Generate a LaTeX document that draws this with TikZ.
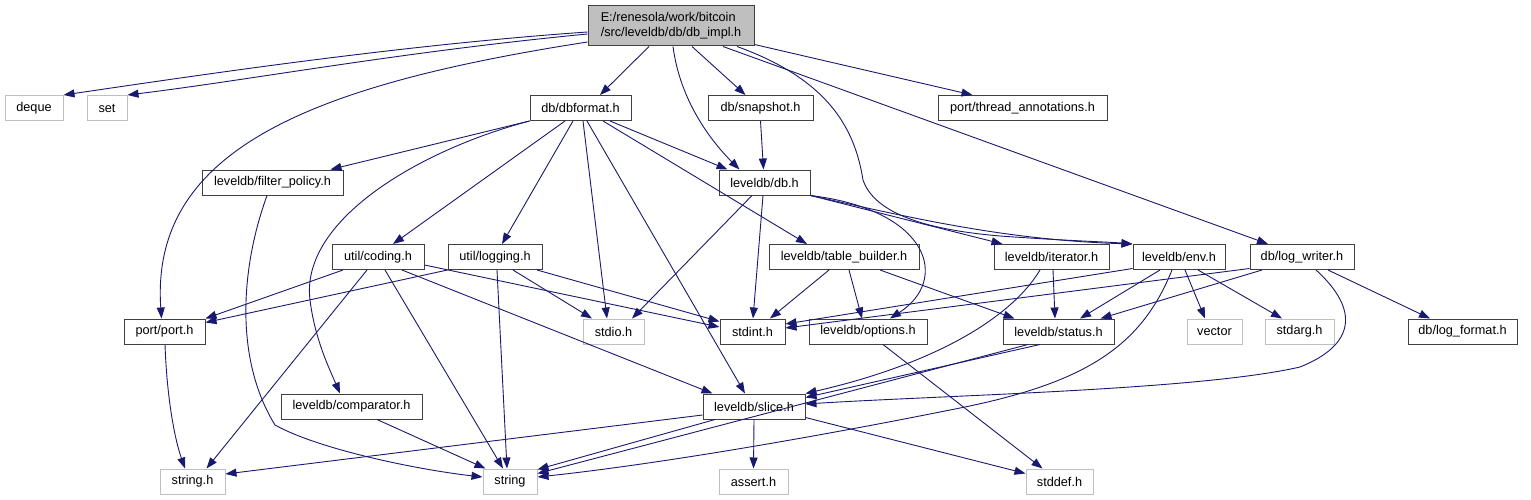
\documentclass[tikz,border=0pt]{standalone}
\usepackage{fontspec}
\setmainfont{Liberation Sans}
\usetikzlibrary{arrows.meta,calc}
\definecolor{edgec}{HTML}{191970}
\definecolor{boxline}{HTML}{404040}
\definecolor{extline}{HTML}{BFBFBF}
\definecolor{rootfill}{HTML}{BFBFBF}
\begin{document}
\begin{tikzpicture}[x=1pt,y=-1pt,
  box/.style={draw=boxline,fill=white,line width=1pt,inner sep=0pt,minimum height=25pt,
    font=\fontsize{12.7}{15}\selectfont,text=black},
  ext/.style={box,draw=extline},
  e/.style={draw=edgec,line width=0.9pt,-{Triangle[length=11pt,width=8pt]}}]
\useasboundingbox[fill=white] (0,0) rectangle (1531,500);
% nodes
\node[box,fill=rootfill,minimum width=166pt,minimum height=40pt,align=left] (root) at (671,26) {E:/renesola/work/bitcoin\\/src/leveldb/db/db\_impl.h};
\node[ext,minimum width=58pt] (deque) at (34,108) {deque};
\node[ext,minimum width=40pt] (set) at (107,108) {set};
\node[box,minimum width=101pt] (dbformat) at (580.5,108) {db/dbformat.h};
\node[box,minimum width=105pt] (snapshot) at (760.5,108) {db/snapshot.h};
\node[box,minimum width=169pt] (thread) at (1022.5,108) {port/thread\_annotations.h};
\node[box,minimum width=141pt] (filter) at (272.5,182.5) {leveldb/filter\_policy.h};
\node[box,minimum width=91pt] (db) at (764.5,182.5) {leveldb/db.h};
\node[box,minimum width=92pt] (coding) at (378,257) {util/coding.h};
\node[box,minimum width=94pt] (logging) at (495,257) {util/logging.h};
\node[box,minimum width=150pt] (tbuilder) at (844,257) {leveldb/table\_builder.h};
\node[box,minimum width=115pt] (iterator) at (1051.5,257) {leveldb/iterator.h};
\node[box,minimum width=92pt] (env) at (1179,257) {leveldb/env.h};
\node[box,minimum width=104pt] (logw) at (1302,257) {db/log\_writer.h};
\node[box,minimum width=81pt] (port) at (164.5,331.5) {port/port.h};
\node[ext,minimum width=61pt] (stdio) at (613.5,331.5) {stdio.h};
\node[box,minimum width=65pt] (stdint) at (752.5,331.5) {stdint.h};
\node[box,minimum width=118pt] (options) at (868,331.5) {leveldb/options.h};
\node[box,minimum width=111pt] (status) at (1058.5,331.5) {leveldb/status.h};
\node[ext,minimum width=55pt] (vector) at (1214.5,331.5) {vector};
\node[ext,minimum width=69pt] (stdarg) at (1299.5,331.5) {stdarg.h};
\node[box,minimum width=109pt] (logfmt) at (1462.5,331.5) {db/log\_format.h};
\node[box,minimum width=141pt] (comparator) at (351.5,406.5) {leveldb/comparator.h};
\node[box,minimum width=102pt] (slice) at (754,406.5) {leveldb/slice.h};
\node[ext,minimum width=65pt] (stringh) at (192.5,481.5) {string.h};
\node[ext,minimum width=54pt] (string) at (510,481.5) {string};
\node[ext,minimum width=69pt] (assert) at (753.5,481.5) {assert.h};
\node[ext,minimum width=67pt] (stddef) at (1059.5,481.5) {stddef.h};
% root edges
\draw[e] ($(root.west)+(0,6)$) .. controls (400,45) and (200,75) .. (deque.north east);
\draw[e] ($(root.west)+(0,8)$) .. controls (400,52) and (250,80) .. (set.north east);
\draw[e] ($(root.west)+(0,16)$) .. controls (310,85) and (150,150) .. ($(port.north)+(-3,0)$);
\draw[e] ($(root.south)+(-22,0)$) -- ($(dbformat.north)+(19.5,0)$);
\draw[e] ($(root.south)+(2,0)$) .. controls (680,100) and (710,140) .. ($(db.north)+(-25,0)$);
\draw[e] ($(root.south)+(21,0)$) -- ($(snapshot.north)+(-15,0)$);
\draw[e] ($(root.south)+(52,0)$) -- ($(logw.north)+(-34,0)$);
\draw[e] ($(root.south)+(66,0)$) .. controls (830,80) and (855,130) .. (863,180) .. controls (875,215) and (930,230) .. (1000,236) .. controls (1070,241) and (1110,242) .. (env.north west);
\draw[e] ($(root.south east)+(0,-2)$) -- ($(thread.north)+(-50,0)$);
% dbformat edges
\draw[e] (dbformat.south west) -- ($(filter.north east)+(-13,0)$);
\draw[e] (dbformat.south west) .. controls (420,150) and (300,220) .. (310,300) .. controls (315,340) and (330,370) .. ($(comparator.north)+(-11.5,0)$);
\draw[e] ($(dbformat.south)+(-15.5,0)$) -- ($(coding.north)+(15,0)$);
\draw[e] ($(dbformat.south)+(-7.5,0)$) -- ($(logging.north)+(7,0)$);
\draw[e] ($(dbformat.south)+(2.5,0)$) -- ($(stdio.north)+(-6.5,0)$);
\draw[e] ($(dbformat.south)+(6.5,0)$) -- ($(slice.north)+(-9,0)$);
\draw[e] ($(dbformat.south)+(22.5,0)$) -- ($(tbuilder.north)+(-37,0)$);
\draw[e] ($(dbformat.south)+(29.5,0)$) -- ($(db.north)+(-37,0)$);
% snapshot
\draw[e] (snapshot.south) -- ($(db.north)+(-1,0)$);
% db edges
\draw[e] ($(db.south)+(-12.5,0)$) -- ($(stdio.north)+(18.5,0)$);
\draw[e] ($(db.south)+(-1.5,0)$) -- ($(stdint.north)+(0.5,0)$);
\draw[e] (db.south east) .. controls (930,210) and (950,280) .. ($(options.north)+(22,0)$);
\draw[e] (db.south east) -- ($(iterator.north west)+(9,0)$);
\draw[e] (db.south east) .. controls (900,215) and (1000,240) .. (env.north west);
% filter, comparator
\draw[e] ($(filter.south)+(-5.5,0)$) .. controls (240,270) and (235,360) .. (275,425) .. controls (320,450) and (420,470) .. ($(string.west)+(0,-4.5)$);
\draw[e] ($(comparator.south)+(25.5,0)$) -- ($(string.north west)+(3,0)$);
% coding
\draw[e] ($(coding.south)+(-35,0)$) -- (port.north east);
\draw[e] ($(coding.south)+(-11,0)$) -- ($(stringh.north east)+(-19,0)$);
\draw[e] ($(coding.south)+(7,0)$) -- ($(string.north)+(-7,0)$);
\draw[e] ($(coding.south)+(24,0)$) -- ($(slice.north west)+(10,0)$);
\draw[e] ($(coding.east)+(0,8)$) -- ($(stdint.west)+(0,-4.5)$);
% logging
\draw[e] (logging.south west) -- ($(port.east)+(0,-9)$);
\draw[e] ($(logging.south)+(2,0)$) -- ($(string.north)+(-3,0)$);
\draw[e] ($(logging.south)+(18,0)$) -- ($(stdio.north)+(-21.5,0)$);
\draw[e] ($(logging.south)+(42,0)$) -- ($(stdint.west)+(0,-10)$);
% table builder
\draw[e] ($(tbuilder.south)+(-15,0)$) -- ($(stdint.north)+(17.5,0)$);
\draw[e] ($(tbuilder.south)+(5,0)$) -- ($(options.north)+(-6,0)$);
\draw[e] ($(tbuilder.south)+(36,0)$) -- ($(status.north west)+(12,0)$);
% iterator
\draw[e] ($(iterator.south)+(-11.5,0)$) .. controls (1010,320) and (930,365) .. (slice.north east);
\draw[e] ($(iterator.south)+(1.5,0)$) -- ($(status.north)+(-3.5,0)$);
% env
\draw[e] ($(env.south west)+(0,-1.5)$) -- ($(stdint.east)+(0,-7.5)$);
\draw[e] ($(env.south)+(-19,0)$) -- ($(status.north)+(21.5,0)$);
\draw[e] ($(env.south)+(-7,0)$) .. controls (1140,350) and (1080,385) .. (950,410) .. controls (800,440) and (650,465) .. ($(string.east)+(0,-4.5)$);
\draw[e] ($(env.south)+(6,0)$) -- ($(vector.north)+(-9.5,0)$);
\draw[e] ($(env.south)+(19,0)$) -- ($(stdarg.north)+(-17.5,0)$);
% log writer
\draw[e] ($(logw.south west)+(0,-1.5)$) -- ($(stdint.east)+(0,-3.5)$);
\draw[e] ($(logw.south)+(-40,0)$) -- ($(status.north east)+(-14,0)$);
\draw[e] ($(logw.south)+(14,0)$) .. controls (1360,310) and (1355,345) .. (1300,367) .. controls (1200,390) and (950,395) .. ($(slice.east)+(0,-2.5)$);
\draw[e] ($(logw.south)+(26,0)$) -- ($(logfmt.north)+(-32.5,0)$);
% port, options, status
\draw[e] ($(port.south)+(0.5,0)$) .. controls (167,400) and (175,440) .. ($(stringh.north)+(-7.5,0)$);
\draw[e] ($(options.south)+(15,0)$) -- ($(stddef.north west)+(17,0)$);
\draw[e] ($(status.south)+(-18.5,0)$) -- ($(slice.east)+(0,-9)$);
\draw[e] ($(status.south)+(-30.5,0)$) -- ($(string.east)+(0,-8)$);
% slice
\draw[e] ($(slice.west)+(0,8.5)$) -- ($(stringh.east)+(0,-7.5)$);
\draw[e] ($(slice.south)+(-39,0)$) -- ($(string.north east)+(0,1)$);
\draw[e] (slice.south) -- (assert.north);
\draw[e] ($(slice.south east)+(0,-2)$) -- ($(stddef.west)+(0,-8)$);
\end{tikzpicture}
\end{document}
